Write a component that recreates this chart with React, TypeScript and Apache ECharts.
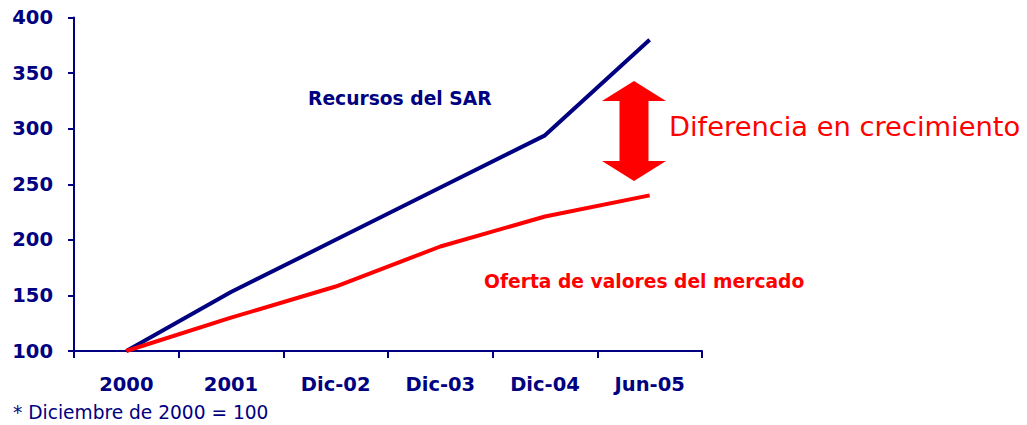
import React, { useEffect, useRef } from "react";
import * as echarts from "echarts";

const categories = ["2000", "2001", "Dic-02", "Dic-03", "Dic-04", "Jun-05"];
const sarValues = [100, 153, 200, 247, 294, 380];
const mercadoValues = [100, 130, 158, 194, 221, 240];
const yMin = 100;
const yMax = 400;
const yInterval = 50;

const NAVY = "#000080";
const RED = "#FF0000";
const FONT = "'DejaVu Sans', Verdana, sans-serif";

export default function App() {
  const ref = useRef<HTMLDivElement>(null);
  useEffect(() => {
    if (!ref.current) return;
    const chart = echarts.init(ref.current, null, { renderer: "svg" });
    const arrowX = 634;
    const top = 81;
    const bottom = 181;
    const headH = 20;
    const headW = 32;
    const shaftW = 14.5;
    chart.setOption({
      animation: false,
      grid: { left: 74, right: 325, top: 17.5, bottom: 74, containLabel: false },
      xAxis: {
        type: "category",
        data: categories,
        boundaryGap: true,
        axisLine: { show: true, lineStyle: { color: NAVY, width: 2 } },
        axisTick: { show: true, length: 7, lineStyle: { color: NAVY, width: 2 } },
        axisLabel: {
          color: NAVY,
          fontFamily: FONT,
          fontWeight: "bold",
          fontSize: 19.5,
          margin: 23,
        },
        splitLine: { show: false },
      },
      yAxis: {
        type: "value",
        min: yMin,
        max: yMax,
        interval: yInterval,
        axisLine: { show: true, lineStyle: { color: NAVY, width: 2 } },
        axisTick: { show: true, length: 6, lineStyle: { color: NAVY, width: 2 } },
        axisLabel: {
          color: NAVY,
          fontFamily: FONT,
          fontWeight: "bold",
          fontSize: 19.5,
          margin: 21,
        },
        splitLine: { show: false },
      },
      series: [
        {
          name: "Recursos del SAR",
          type: "line",
          data: sarValues,
          symbol: "none",
          lineStyle: { color: NAVY, width: 4 },
          z: 3,
        },
        {
          name: "Oferta de valores del mercado",
          type: "line",
          data: mercadoValues,
          symbol: "none",
          lineStyle: { color: RED, width: 4 },
          z: 4,
        },
      ],
      graphic: [
        {
          type: "text",
          left: 308,
          top: 89,
          style: {
            text: "Recursos del SAR",
            fill: NAVY,
            font: `bold 18.7px ${FONT}`,
          },
        },
        {
          type: "text",
          left: 484,
          top: 272,
          style: {
            text: "Oferta de valores del mercado",
            fill: RED,
            font: `bold 18.7px ${FONT}`,
          },
        },
        {
          type: "text",
          left: 669,
          top: 113,
          style: {
            text: "Diferencia en crecimiento",
            fill: RED,
            font: `27.3px ${FONT}`,
          },
        },
        {
          type: "text",
          left: 13,
          top: 403,
          style: {
            text: "* Diciembre de 2000 = 100",
            fill: NAVY,
            font: `18.6px ${FONT}`,
          },
        },
        {
          type: "polygon",
          shape: {
            points: [
              [arrowX, top],
              [arrowX + headW, top + headH],
              [arrowX + shaftW, top + headH],
              [arrowX + shaftW, bottom - headH],
              [arrowX + headW, bottom - headH],
              [arrowX, bottom],
              [arrowX - headW, bottom - headH],
              [arrowX - shaftW, bottom - headH],
              [arrowX - shaftW, top + headH],
              [arrowX - headW, top + headH],
            ],
          },
          style: { fill: RED },
        },
      ],
    });
    return () => chart.dispose();
  }, []);
  return (
    <div
      ref={ref}
      style={{ position: "fixed", left: 0, top: 0, width: 1027, height: 425, background: "#fff" }}
    />
  );
}
